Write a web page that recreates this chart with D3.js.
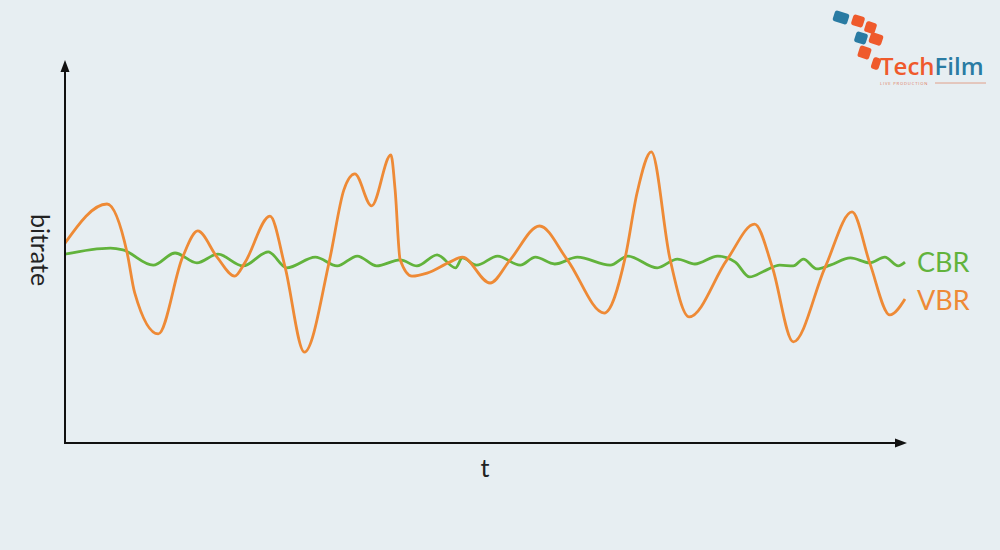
<!DOCTYPE html>
<html><head><meta charset="utf-8">
<script src="https://cdn.jsdelivr.net/npm/d3@7"></script>
<style>html,body{margin:0;padding:0;background:#e7eef2;}svg{display:block;}</style>
</head><body>
<svg id="chart" width="1000" height="550"></svg>
<script>
// ---- data (t: 0..100, bitrate: 0..100) ----
const vbrT = [0,5.0,7.4,8.3,11.1,14.0,15.8,18.1,20.2,21.4,24.4,26.2,28.5,31.5,33.2,34.5,36.5,38.8,39.3,39.9,41.3,43.1,45.8,47.3,50.6,53.0,56.5,59.8,64.2,66.7,68.1,69.8,72.0,74.3,78.8,82.1,84.2,86.7,90.5,93.7,95.8,98.2,100];
const vbrV = [52.6,62.9,50.0,39.5,28.7,48.9,55.8,48.9,43.9,47.4,59.7,46.3,23.9,48.2,66.6,70.8,62.4,75.8,66.6,48.2,43.9,44.7,47.6,48.9,42.1,48.2,57.1,48.2,34.2,48.9,65.8,76.6,48.7,33.2,48.2,57.6,46.3,26.6,46.3,60.8,47.4,33.7,37.9];
const cbrT = [0,5.4,6.9,10.5,13.1,15.7,18.2,21.2,24.2,26.4,29.8,32.4,34.8,37.1,39.9,41.9,44.3,46.5,47.3,49.0,51.5,54.2,56.0,58.3,61.0,64.9,67.0,70.5,72.9,75.0,77.7,79.8,81.5,83.3,85.1,86.7,87.9,89.5,91.1,93.5,95.8,97.6,99.2,100];
const cbrV = [49.7,51.3,50.8,46.8,50.0,47.4,49.7,46.6,50.3,46.1,48.9,46.6,49.2,46.6,48.2,46.6,49.5,46.1,48.7,46.8,49.2,46.8,48.9,47.1,48.9,46.8,49.2,46.1,48.4,47.1,49.2,47.6,43.7,45.3,46.8,46.6,48.4,45.8,46.8,48.7,47.4,48.9,46.6,47.6];
const seriesNames = ["CBR","VBR"];
const axisLabels = {x:"t", y:"bitrate"};

const svg = d3.select("#chart");
svg.append("rect").attr("width",1000).attr("height",550).attr("fill","#e7eef2");

const x = d3.scaleLinear().domain([0,100]).range([65,905]);
const y = d3.scaleLinear().domain([0,100]).range([443,63]);

const colors = {CBR:"#62b33c", VBR:"#ee8a36"};

const line = d3.line().x(d=>x(d[0])).y(d=>y(d[1])).curve(d3.curveMonotoneX);
const cbr = cbrT.map((t,i)=>[t,cbrV[i]]);
const vbr = vbrT.map((t,i)=>[t,vbrV[i]]);

svg.append("path").datum(cbr).attr("d",line).attr("fill","none").attr("stroke",colors.CBR).attr("stroke-width",2.8);
svg.append("path").datum(vbr).attr("d",line).attr("fill","none").attr("stroke",colors.VBR).attr("stroke-width",2.8);

// axes
const x0 = x(0), y0 = y(0);
svg.append("line").attr("x1",x0).attr("y1",y0).attr("x2",x0).attr("y2",70).attr("stroke","#111").attr("stroke-width",2);
svg.append("line").attr("x1",x0-1).attr("y1",y0).attr("x2",898).attr("y2",y0).attr("stroke","#111").attr("stroke-width",2);
svg.append("path").attr("d",`M${x0},60 L${x0-4.5},72 L${x0+4.5},72 Z`).attr("fill","#111");
svg.append("path").attr("d",`M907,${y0} L895,${y0-4.5} L895,${y0+4.5} Z`).attr("fill","#111");

// axis labels
svg.append("text").attr("x",485).attr("y",477).attr("text-anchor","middle")
  .attr("font-family","Lato, 'Open Sans', sans-serif").attr("font-size",25).attr("fill","#222").text(axisLabels.x);
svg.append("text").attr("transform","translate(31,250) rotate(90)").attr("text-anchor","middle")
  .attr("font-family","Lato, 'Open Sans', sans-serif").attr("font-size",25).attr("fill","#222").text(axisLabels.y);

// series labels
svg.append("text").attr("x",917).attr("y",272).attr("font-family","Lato, 'Open Sans', sans-serif").attr("font-size",27).attr("fill",colors.CBR).text(seriesNames[0]);
svg.append("text").attr("x",917).attr("y",310).attr("font-family","Lato, 'Open Sans', sans-serif").attr("font-size",27).attr("fill",colors.VBR).text(seriesNames[1]);

// logo
const logo = svg.append("g");
const blue = "#2a7ba3", orng = "#ef5a2c";
const tiles = [
  [841,17.5,15,11,blue],[858,21,12,11,orng],[870.5,27.5,11,11,orng],
  [861,38,12,11,blue],[876,39,13,11,orng],
  [864.5,52.5,12,12,orng],[876,63.5,8,12,orng]
];
tiles.forEach(t=>{
  const [cx,cy,w,h,c] = t;
  logo.append("rect").attr("x",-w/2).attr("y",-h/2).attr("width",w).attr("height",h).attr("rx",2.5)
    .attr("fill",c).attr("transform",`translate(${cx},${cy}) rotate(18)`);
});
const lt = logo.append("text").attr("x",880).attr("y",75).attr("font-family","'Open Sans', sans-serif").attr("font-weight",600).attr("font-size",24);
lt.append("tspan").attr("fill",orng).text("Tech");
lt.append("tspan").attr("fill",blue).text("Film");
logo.append("text").attr("x",880).attr("y",84.5).attr("font-family","'Open Sans', sans-serif").attr("font-size",4.2).attr("fill","#e07a60").attr("letter-spacing",0.8).text("LIVE PRODUCTION");
logo.append("line").attr("x1",935).attr("x2",986).attr("y1",83).attr("y2",83).attr("stroke","#e08a70").attr("stroke-width",0.8);
</script>
</body></html>
